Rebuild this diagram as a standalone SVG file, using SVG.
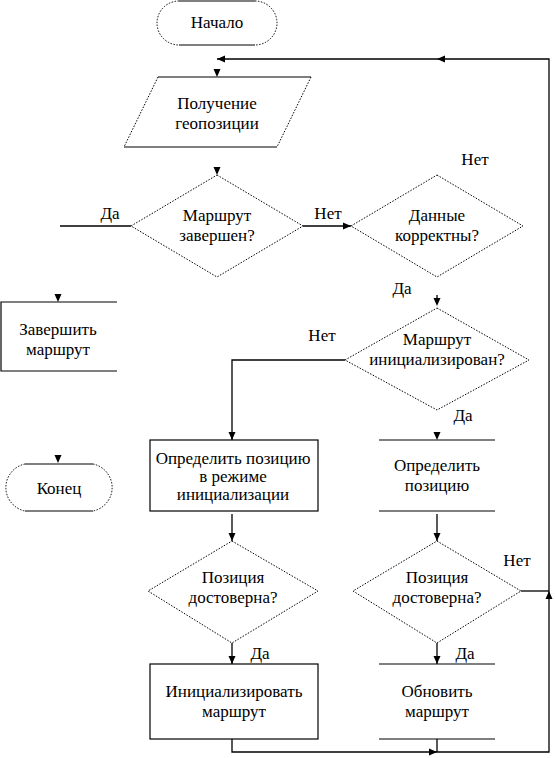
<svg xmlns="http://www.w3.org/2000/svg" width="555" height="758" viewBox="0 0 555 758">
<style>
text{font-family:'Liberation Serif','Times New Roman','DejaVu Serif',serif;font-size:17px;fill:#000;text-anchor:middle}
.s{fill:none;stroke:#000;stroke-width:1.2}
.d{fill:none;stroke:#000;stroke-width:1;stroke-dasharray:1.5 1.5}
.c{fill:none;stroke:#000;stroke-width:1.3}
.ah{fill:#000}
</style>
<defs>
<path id="ah" class="ah" d="M-3.5,-8 L3.5,-8 L0,0 Z"/>
</defs>
<rect width="555" height="758" fill="#fff"/>
<g id="connectors">
<path class="c" d="M232,739 V752 H549 V59 H217"/>
<path class="c" d="M437,739 V752"/>
<path class="c" d="M60,226 H131"/>
<path class="c" d="M303,226 H351"/>
<path class="c" d="M345,360 H232 V440"/>
<path class="c" d="M232,514 V541"/>
<path class="c" d="M437,514 V541"/>
<path class="c" d="M232,643 V664"/>
<path class="c" d="M437,643 V664"/>
<path class="c" d="M521,591 H549"/>
<path class="c" d="M437,295 V298"/>
<use href="#ah" transform="translate(217,77)"/>
<use href="#ah" transform="translate(217,175)"/>
<use href="#ah" transform="translate(58,302)"/>
<use href="#ah" transform="translate(437,306)"/>
<use href="#ah" transform="translate(58,463)"/>
<use href="#ah" transform="translate(232,440)"/>
<use href="#ah" transform="translate(437,440)"/>
<use href="#ah" transform="translate(232,541)"/>
<use href="#ah" transform="translate(437,541)"/>
<use href="#ah" transform="translate(232,664)"/>
<use href="#ah" transform="translate(437,664)"/>
<use href="#ah" transform="translate(351,226) rotate(-90)"/>
<use href="#ah" transform="translate(437,752) rotate(-90)"/>
<use href="#ah" transform="translate(549,591) rotate(180)"/>
<use href="#ah" transform="translate(437,59) rotate(90)"/>
<use href="#ah" transform="translate(217,59) rotate(90)"/>
<text x="110" y="219">Да</text>
<text x="328" y="219">Нет</text>
<text x="475" y="165">Нет</text>
<text x="402" y="294">Да</text>
<text x="322" y="341">Нет</text>
<text x="463" y="421">Да</text>
<text x="517" y="566">Нет</text>
<text x="260" y="659">Да</text>
<text x="465" y="659">Да</text>
</g>
<g id="start">
<path class="d" d="M179,1 A22,22 0 0 0 179,45 M255,1 A22,22 0 0 1 255,45"/>
<path class="s" d="M179,1 H255 M179,45 H255"/>
<text x="217" y="28">Начало</text>
</g>
<g id="input">
<path class="s" d="M158,77 H311 M124,147 H277"/>
<path class="d" d="M158,77 L124,147 M311,77 L277,147"/>
<text x="217" y="109">Получение</text>
<text x="217" y="129">геопозиции</text>
</g>
<g id="dec-finished">
<polygon class="d" points="217,175 303,226 217,277 131,226"/>
<text x="217" y="221">Маршрут</text>
<text x="217" y="241">завершен?</text>
</g>
<g id="dec-valid">
<polygon class="d" points="437,175 523,226 437,277 351,226"/>
<text x="437" y="221">Данные</text>
<text x="437" y="241">корректны?</text>
</g>
<g id="finish-route">
<path class="s" d="M117,302 H1 V371 H117"/>
<text x="58" y="335">Завершить</text>
<text x="58" y="355">маршрут</text>
</g>
<g id="end">
<path class="d" d="M25,464 A24,24 0 0 0 25,511 M93,464 A24,24 0 0 1 93,511"/>
<path class="s" d="M25,464 H93 M25,511 H93"/>
<text x="59" y="494">Конец</text>
</g>
<g id="dec-init">
<polygon class="d" points="437,308 529,360 437,410 345,360"/>
<text x="437" y="345">Маршрут</text>
<text x="437" y="365">инициализирован?</text>
</g>
<g id="pos-init">
<rect class="s" x="150" y="440" width="168" height="71"/>
<text x="233" y="464">Определить позицию</text>
<text x="233" y="482">в режиме</text>
<text x="233" y="500">инициализации</text>
</g>
<g id="pos">
<path class="s" d="M379,440 H495 M379,511 H495"/>
<text x="437" y="471">Определить</text>
<text x="437" y="491">позицию</text>
</g>
<g id="dec-pos-init">
<polygon class="d" points="232,541 318,591 232,643 148,591"/>
<text x="233" y="583">Позиция</text>
<text x="233" y="603">достоверна?</text>
</g>
<g id="dec-pos">
<polygon class="d" points="437,541 521,591 437,643 353,591"/>
<text x="437" y="583">Позиция</text>
<text x="437" y="603">достоверна?</text>
</g>
<g id="init-route">
<rect class="s" x="150" y="664" width="168" height="75"/>
<text x="234" y="697">Инициализировать</text>
<text x="234" y="717">маршрут</text>
</g>
<g id="update-route">
<path class="s" d="M379,664 H495 M379,739 H495"/>
<text x="437" y="697">Обновить</text>
<text x="437" y="717">маршрут</text>
</g>
</svg>
